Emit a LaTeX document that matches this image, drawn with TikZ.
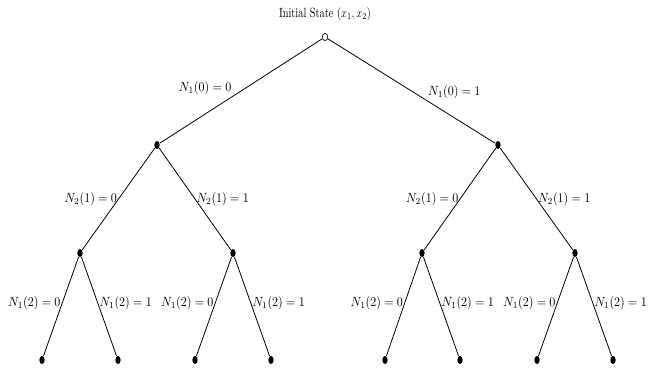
\documentclass[tikz,border=0pt]{standalone}
\usepackage{tikz}
\usetikzlibrary{positioning,shapes.geometric}

\begin{document}
\begin{tikzpicture}[
    on grid,
    statedot/.style={ellipse, fill=black, inner sep=0pt, minimum width=4pt, minimum height=6pt},
    rootdot/.style={ellipse, draw=black, fill=white, line width=0.5pt, inner sep=0pt, minimum width=4.2pt, minimum height=5.4pt},
    lbl/.style={inner sep=1pt, font=\normalsize, xscale=0.9, transform shape},
    every path/.style={line width=0.6pt}
]
\useasboundingbox (0,0) rectangle (492.75pt,-276pt);

\node[rootdot] (root) at (243.75pt,-27.75pt) {};
\node[draw=none, inner sep=0pt, xscale=0.78, transform shape] (init) [above=17pt of root] {Initial State $(x_1,x_2)$};

\node[statedot] (s0) [below left=81pt and 126pt of root] {};
\node[statedot] (s1) [below right=81pt and 129.75pt of root] {};

\node[statedot] (s00) [below left=81pt and 57.75pt of s0] {};
\node[statedot] (s01) [below right=81pt and 57pt of s0] {};
\node[statedot] (s10) [below left=81pt and 57pt of s1] {};
\node[statedot] (s11) [below right=81pt and 57.75pt of s1] {};

\node[statedot] (s000) [below left=80.25pt and 28.5pt of s00] {};
\node[statedot] (s001) [below right=80.25pt and 28.5pt of s00] {};
\node[statedot] (s010) [below left=80.25pt and 28.5pt of s01] {};
\node[statedot] (s011) [below right=80.25pt and 28.5pt of s01] {};
\node[statedot] (s100) [below left=80.25pt and 27.75pt of s10] {};
\node[statedot] (s101) [below right=80.25pt and 28.5pt of s10] {};
\node[statedot] (s110) [below left=80.25pt and 28.5pt of s11] {};
\node[statedot] (s111) [below right=80.25pt and 28.5pt of s11] {};

\draw (root) -- node[lbl, pos=0.55, anchor=south east] {$N_1(0)=0$} (s0);
\draw (root) -- node[lbl, pos=0.59, anchor=south west] {$N_1(0)=1$} (s1);

\draw (s0) -- node[lbl, anchor=east] {$N_2(1)=0$} (s00);
\draw (s0) -- node[lbl, anchor=west] {$N_2(1)=1$} (s01);
\draw (s1) -- node[lbl, anchor=east] {$N_2(1)=0$} (s10);
\draw (s1) -- node[lbl, anchor=west] {$N_2(1)=1$} (s11);

\draw (s00) -- node[lbl, pos=0.47, anchor=east] {$N_1(2)=0$} (s000);
\draw (s00) -- node[lbl, pos=0.47, anchor=west] {$N_1(2)=1$} (s001);
\draw (s01) -- node[lbl, pos=0.47, anchor=east] {$N_1(2)=0$} (s010);
\draw (s01) -- node[lbl, pos=0.47, anchor=west] {$N_1(2)=1$} (s011);
\draw (s10) -- node[lbl, pos=0.47, anchor=east] {$N_1(2)=0$} (s100);
\draw (s10) -- node[lbl, pos=0.47, anchor=west] {$N_1(2)=1$} (s101);
\draw (s11) -- node[lbl, pos=0.47, anchor=east] {$N_1(2)=0$} (s110);
\draw (s11) -- node[lbl, pos=0.47, anchor=west] {$N_1(2)=1$} (s111);

\end{tikzpicture}
\end{document}
